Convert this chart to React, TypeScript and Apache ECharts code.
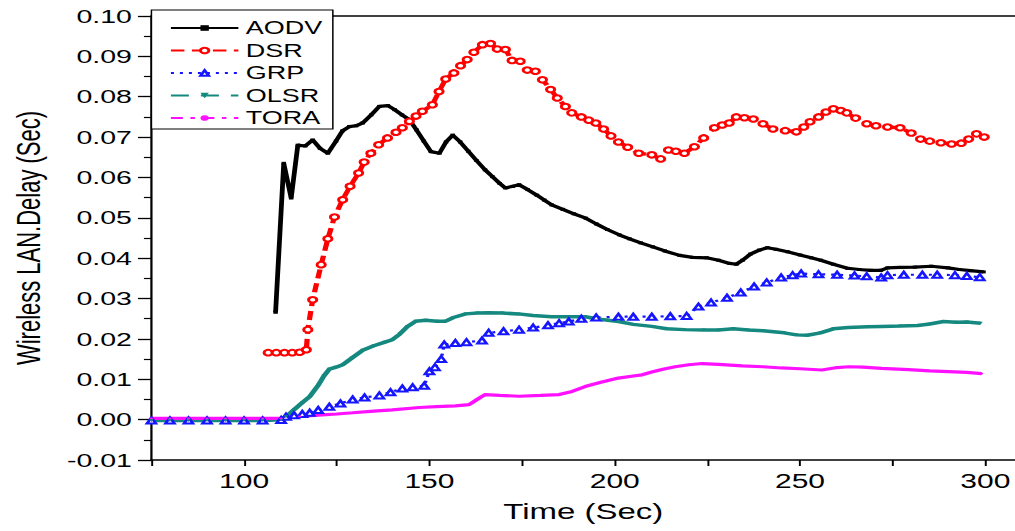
import React, { useEffect, useRef } from "react";
import * as echarts from "echarts";

// ---- data (time in sec, delay in sec) ----
const seriesNames = ["AODV", "DSR", "GRP", "OLSR", "TORA"];

const aodv: [number, number][] = [
  [108.5, 0.0266], [110.7, 0.0635], [112.7, 0.0549], [114.5, 0.068], [116.5, 0.0678], [118.5, 0.0693],
  [120.5, 0.0672], [122.6, 0.066], [124.8, 0.069], [126.5, 0.0715], [128.4, 0.0726], [130.2, 0.0728],
  [132, 0.0735], [134.3, 0.0755], [136.5, 0.0776], [138.8, 0.0778], [140.6, 0.0768], [142.6, 0.0755],
  [144.6, 0.0743], [146.5, 0.0718], [148.5, 0.069], [150.4, 0.0664], [152.7, 0.066], [154.5, 0.0688],
  [156.3, 0.0705], [158.3, 0.0688], [160.5, 0.0665], [162.7, 0.0642], [165, 0.0619], [167, 0.0602],
  [169, 0.0585], [170.5, 0.0574], [172.5, 0.0578], [174.2, 0.0582], [176.5, 0.057], [179, 0.0556],
  [181, 0.0544], [183, 0.0532], [186, 0.0521], [189, 0.051], [192.2, 0.0499], [195, 0.0485],
  [198, 0.0471], [201.2, 0.0458], [204, 0.0448], [207, 0.0438], [210.3, 0.0428], [213.5, 0.0418],
  [217.5, 0.0407], [221, 0.0402], [224.8, 0.0401], [228, 0.0395], [231, 0.0387], [232.8, 0.0385],
  [234.5, 0.0395], [236.6, 0.041], [239, 0.042], [241.2, 0.0426], [243.5, 0.0422], [246.6, 0.0416],
  [250, 0.0408], [253, 0.0401], [255.6, 0.0395], [259, 0.0385], [262.8, 0.0375], [266, 0.0372],
  [269, 0.037], [271.8, 0.037], [273.6, 0.0376], [277, 0.0377], [281, 0.0378], [285.4, 0.038],
  [289.9, 0.0376], [293, 0.0372], [296, 0.0369], [299.5, 0.0366],
];

const dsr: [number, number][] = [
  [106.5, 0.0166], [108.7, 0.0166], [110.9, 0.0166], [113, 0.0166], [115, 0.0167], [116.8, 0.0173],
  [117.2, 0.0223], [118.5, 0.0297], [120.8, 0.0384], [122.6, 0.0448], [124.4, 0.0502], [126.6, 0.0545],
  [128.6, 0.0578], [130.9, 0.0611], [132.4, 0.0638], [134.2, 0.066], [136.3, 0.0681], [138.7, 0.0698],
  [141, 0.0712], [142.7, 0.0723], [144.6, 0.0739], [146.4, 0.0752], [148.1, 0.0764], [150.8, 0.078],
  [152.6, 0.0813], [154.4, 0.0844], [156.6, 0.0859], [158.4, 0.0877], [160.2, 0.0892], [162, 0.091],
  [164.3, 0.0929], [166.5, 0.0932], [168.3, 0.0918], [170.5, 0.0917], [172.3, 0.089], [174.5, 0.0888],
  [176.4, 0.0866], [178.6, 0.0863], [180.5, 0.0842], [182.7, 0.0818], [184.5, 0.0797], [186.7, 0.0776],
  [188.4, 0.076], [191, 0.075], [193, 0.0742], [194.9, 0.0735], [197, 0.072], [199, 0.0703],
  [201, 0.0688], [203.5, 0.0675], [206.5, 0.066], [210, 0.0656], [212.4, 0.0646], [214.5, 0.0668],
  [216.5, 0.0665], [218.8, 0.066], [221.5, 0.0676], [224, 0.0698], [226.9, 0.0723], [229, 0.073],
  [230.9, 0.0735], [232.8, 0.075], [235, 0.0748], [237.4, 0.0745], [240, 0.0733], [242.7, 0.072],
  [246, 0.0716], [249, 0.0713], [251, 0.0725], [252.7, 0.0738], [255, 0.075], [257, 0.0762],
  [259, 0.077], [261, 0.0766], [262.6, 0.076], [265, 0.0747], [268, 0.0733], [270.5, 0.0728],
  [273.6, 0.0725], [277, 0.0723], [280, 0.071], [282.5, 0.0695], [285, 0.069], [288, 0.0686],
  [290.9, 0.0683], [293.5, 0.0685], [295.5, 0.0695], [297.6, 0.0708], [299.7, 0.07],
];

const grp: [number, number][] = [
  [75, -0.0002], [80, -0.0002], [85, -0.0002], [90, -0.0002], [95, -0.0002], [100, -0.0002],
  [105, -0.0002], [110, -0.0001], [111.3, 0.0007], [113.5, 0.0011], [115.7, 0.0014], [117.7, 0.0017],
  [120, 0.0024], [123, 0.0032], [126, 0.004], [129.3, 0.005], [132.5, 0.0055], [136.5, 0.006],
  [139.5, 0.0068], [142.7, 0.0077], [145.5, 0.008], [148.6, 0.0084], [150, 0.012], [151.5, 0.013],
  [153.2, 0.015], [154, 0.0186], [157, 0.019], [160, 0.0192], [164.2, 0.0196], [166, 0.0215],
  [170, 0.0219], [174.2, 0.0223], [178, 0.0228], [182, 0.0234], [185, 0.0239], [187.6, 0.0243],
  [191, 0.025], [195, 0.0253], [201, 0.0255], [205, 0.0255], [210, 0.0255], [215, 0.0256],
  [219.4, 0.0257], [222.6, 0.028], [226, 0.029], [230.3, 0.0302], [234, 0.0315], [237.6, 0.033],
  [241, 0.034], [244.9, 0.0352], [248, 0.0358], [250.3, 0.0362], [255, 0.036], [260, 0.0359],
  [264.7, 0.0357], [268, 0.0355], [271.9, 0.0352], [273.6, 0.0358], [278, 0.0359], [283, 0.0359],
  [287, 0.0359], [291.8, 0.0358], [295, 0.0356], [298.5, 0.0353],
];

const olsr: [number, number][] = [
  [75, -0.0002], [80, -0.0002], [85, -0.0002], [90, -0.0002], [95, -0.0002], [100, -0.0002],
  [105, -0.0002], [110, 0], [111.3, 0.0007], [113.5, 0.0025], [115.7, 0.0042], [117.7, 0.0057],
  [120, 0.0085], [121.5, 0.0108], [123, 0.0125], [124.8, 0.013], [126.6, 0.0136], [129, 0.0152],
  [132, 0.0172], [135, 0.0183], [138, 0.0192], [140, 0.0198], [142, 0.0212], [144, 0.023],
  [146.3, 0.0244], [149, 0.0246], [152, 0.0244], [154.4, 0.0244], [156.5, 0.0253], [159.8, 0.0262],
  [163, 0.0264], [166, 0.0265], [169.6, 0.0264], [174, 0.0262], [178, 0.0258], [183, 0.0255],
  [187, 0.0255], [192, 0.0255], [196.5, 0.0248], [201, 0.0243], [205, 0.0236], [210, 0.0231],
  [214, 0.0225], [218.8, 0.0223], [224, 0.0222], [228, 0.0222], [232, 0.0225], [236, 0.0222],
  [240, 0.022], [245.7, 0.0215], [249, 0.021], [252, 0.0209], [255.5, 0.0215], [259, 0.0225],
  [263, 0.0228], [268.3, 0.023], [272, 0.0231], [277, 0.0232], [281.7, 0.0233], [285, 0.0237],
  [288.7, 0.0243], [292, 0.0241], [295, 0.0242], [298.7, 0.0239],
];

const tora: [number, number][] = [
  [75, 0.0003], [80, 0.0003], [85, 0.0003], [90, 0.0003], [95, 0.0003], [100, 0.0003],
  [105, 0.0003], [110, 0.0003], [115, 0.0008], [120, 0.0011], [125, 0.0014], [129.3, 0.0017],
  [135, 0.0021], [140, 0.0024], [147.3, 0.003], [152, 0.0032], [157, 0.0034], [160.7, 0.0037],
  [162.5, 0.0048], [165, 0.0062], [169, 0.006], [174.2, 0.0058], [180, 0.006], [185, 0.0062],
  [188.5, 0.007], [192, 0.0082], [196, 0.0092], [201, 0.0103], [205, 0.0108], [207.4, 0.0111],
  [210, 0.0118], [213, 0.0125], [216.3, 0.0131], [220, 0.0136], [223.6, 0.0139], [228, 0.0137],
  [234.4, 0.0133], [240, 0.0131], [245, 0.0128], [250, 0.0126], [255.9, 0.0123], [260, 0.0129],
  [263.1, 0.0131], [267, 0.013], [272, 0.0127], [279.3, 0.0124], [285, 0.0121], [290, 0.0119],
  [295, 0.0117], [299, 0.0114],
];

const xTickLabels = [100, 150, 200, 250, 300];

// The reference is horizontally stretched; reproduce it by scaling the drawing.
const OUT_W = 1015;
const OUT_H = 531;
const IN_W = 677;
const SX = OUT_W / IN_W;

const FONT = "Liberation Sans, Arial, sans-serif";

export default function App() {
  const ref = useRef<HTMLDivElement>(null);

  useEffect(() => {
    if (!ref.current) return;
    const chart = echarts.init(ref.current, undefined, { renderer: "svg" });

    const option: any = {
      animation: false,
      backgroundColor: "#ffffff",
      textStyle: { fontFamily: FONT, color: "#000" },
      grid: { left: 100, right: 0, top: 16, bottom: 71, containLabel: false },
      legend: {
        orient: "vertical",
        left: 101,
        top: 10,
        padding: [8, 7, 1, 12],
        borderColor: "#000",
        borderWidth: 1,
        backgroundColor: "#fff",
        itemWidth: 45,
        itemHeight: 7,
        itemGap: 2.5,
        textStyle: { fontFamily: FONT, fontSize: 18, lineHeight: 20, color: "#000" },
        data: [
          { name: "AODV" },
          { name: "DSR" },
          { name: "GRP" },
          { name: "OLSR", lineStyle: { type: [12, 8] } },
          { name: "TORA", lineStyle: { type: [8, 5, 3, 5] } },
        ],
      },
      xAxis: [
        {
          type: "value",
          min: 75,
          max: 308,
          interval: 25,
          name: "Time (Sec)",
          nameLocation: "middle",
          nameGap: 41,
          nameTextStyle: { fontFamily: FONT, fontSize: 22, color: "#000" },
          axisLine: { show: true, onZero: false, lineStyle: { color: "#000", width: 1.5 } },
          axisTick: { show: true, length: 6, lineStyle: { color: "#000", width: 1.3 } },
          axisLabel: {
            fontFamily: FONT,
            fontSize: 20,
            color: "#000",
            margin: 11,
            showMaxLabel: false,
            formatter: (v: number) => (xTickLabels.indexOf(Math.round(v)) >= 0 && Math.abs(v - Math.round(v)) < 1e-6 ? String(Math.round(v)) : ""),
          },
          splitLine: { show: false },
        },
        {
          type: "value",
          position: "top",
          min: 75,
          max: 308,
          axisLine: { show: true, onZero: false, lineStyle: { color: "#000", width: 1.5 } },
          axisTick: { show: false },
          axisLabel: { show: false },
          splitLine: { show: false },
        },
      ],
      yAxis: {
        type: "value",
        min: -0.01,
        max: 0.1,
        interval: 0.01,
        name: "Wireless LAN.Delay (Sec)",
        nameLocation: "middle",
        nameGap: 71,
        nameTextStyle: { fontFamily: FONT, fontSize: 22, color: "#000" },
        axisLine: { show: true, onZero: false, lineStyle: { color: "#000", width: 1.5 } },
        axisTick: { show: true, length: 9, lineStyle: { color: "#000", width: 1.3 } },
        minorTick: { show: true, splitNumber: 2, length: 5, lineStyle: { color: "#000", width: 1.2 } },
        axisLabel: {
          fontFamily: FONT,
          fontSize: 19,
          color: "#000",
          margin: 13,
          formatter: (v: number) => (Math.abs(v) < 1e-9 ? 0 : v).toFixed(2),
        },
        splitLine: { show: false },
      },
      series: [
        {
          name: "AODV",
          type: "line",
          data: aodv,
          color: "#000000",
          symbol: "rect",
          symbolSize: 3,
          showAllSymbol: true,
          lineStyle: { color: "#000000", width: 3.2 },
          itemStyle: { color: "#000000" },
        },
        {
          name: "DSR",
          type: "line",
          data: dsr,
          color: "#ff0000",
          symbol: "emptyCircle",
          symbolSize: 5.5,
          showAllSymbol: true,
          lineStyle: { color: "#ff0000", width: 3.5, type: [9, 5] },
          itemStyle: { color: "#ff0000", borderColor: "#ff2020", borderWidth: 0.9 },
        },
        {
          name: "GRP",
          type: "line",
          data: grp,
          color: "#1515ff",
          symbol: "emptyTriangle",
          symbolSize: 6,
          showAllSymbol: true,
          lineStyle: { color: "#1515ff", width: 2.2, type: [2, 4] },
          itemStyle: { color: "#1515ff", borderWidth: 0.8 },
        },
        {
          name: "OLSR",
          type: "line",
          data: olsr,
          color: "#15897f",
          symbol: "triangle",
          symbolRotate: 180,
          symbolSize: 3,
          showAllSymbol: true,
          lineStyle: { color: "#15897f", width: 3.5 },
          itemStyle: { color: "#15897f" },
        },
        {
          name: "TORA",
          type: "line",
          data: tora,
          color: "#ff10ff",
          symbol: "circle",
          symbolSize: 2,
          showAllSymbol: true,
          lineStyle: { color: "#ff10ff", width: 3.2 },
          itemStyle: { color: "#ff10ff" },
        },
      ],
    };

    chart.setOption(option);
    return () => {
      chart.dispose();
    };
  }, []);

  return (
    <div
      style={{
        position: "fixed",
        left: 0,
        top: 0,
        width: OUT_W,
        height: OUT_H,
        overflow: "hidden",
        background: "#fff",
      }}
    >
      <div
        ref={ref}
        style={{
          width: IN_W,
          height: OUT_H,
          transform: `scaleX(${SX})`,
          transformOrigin: "0 0",
        }}
      />
    </div>
  );
}
